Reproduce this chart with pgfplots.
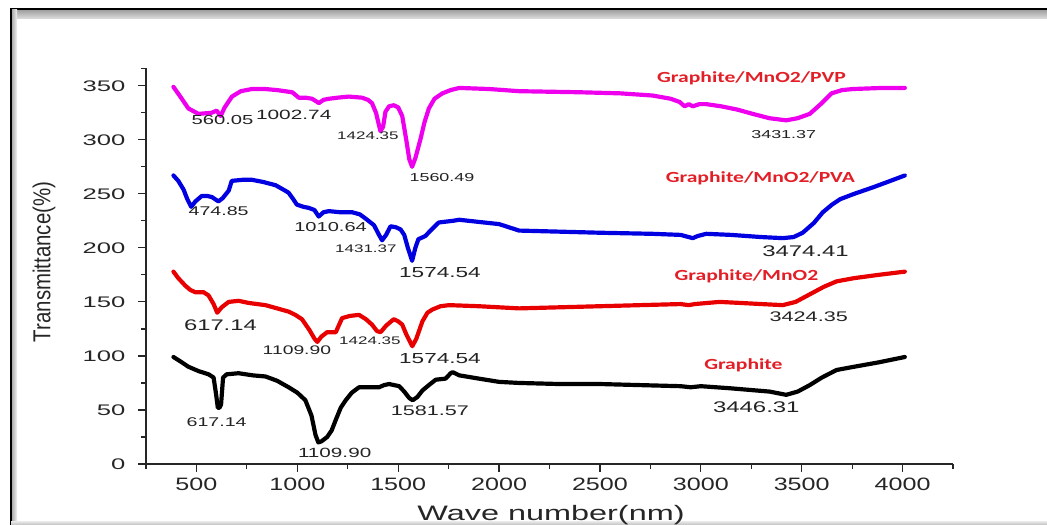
\documentclass[border=0pt]{standalone}
\usepackage{fontspec}
\setmainfont{Liberation Sans}
\newfontfamily\lblfont{Carlito}
\usepackage{pgfplots}
\pgfplotsset{compat=1.18}
\definecolor{pvp}{RGB}{238,0,238}
\definecolor{pva}{RGB}{0,0,225}
\definecolor{mno}{RGB}{232,0,0}
\definecolor{lblred}{RGB}{226,30,38}
\definecolor{anno}{RGB}{35,35,35}
\begin{document}
\begin{tikzpicture}[x=1bp,y=1bp]
\useasboundingbox (0,0) rectangle (1047,525);
% frame
\shade[top color=gray!75, bottom color=gray!25] (11,506) rectangle (1047,515);
\fill[black] (9.5,514.5) rectangle (1047,516.5);
\shade[left color=gray!70, right color=gray!10] (11.5,0) rectangle (17,515);
\fill[black] (9.5,0) rectangle (11.8,516.5);
\shade[top color=gray!20, bottom color=gray!50] (11,0) rectangle (1047,3.5);
\begin{axis}[
  at={(146bp,61bp)}, anchor=south west,
  scale only axis, width=807bp, height=395.5bp,
  xmin=250, xmax=4250, ymin=0, ymax=366,
  axis lines=left, axis line style={-, line width=1.4pt, black!85},
  xtick={500,1000,...,4000}, minor xtick={250,750,...,4250},
  ytick={0,50,...,350}, minor ytick={25,75,...,325,366},
  tick align=outside, major tick length=8bp, minor tick length=5bp,
  every tick/.style={black!85, line width=1.2pt},
  /pgf/number format/1000 sep={},
  /pgf/number format/assume math mode=true,
  x tick label style={font=\fontsize{18}{20}\selectfont, xscale=1.4, text=black!85, yshift=-2bp},
  y tick label style={font=\fontsize{15.4}{18}\selectfont, xscale=1.67, text=black!85, xshift=-4bp},
  clip=false,
  every axis plot/.append style={line width=4.2pt, line join=round, line cap=round},
]
% Graphite/MnO2/PVP
\addplot[pvp] coordinates {
(386,349)(420,340)(460,329)(510,324)(575,325)(600,327)(620,322)(640,330)(676,340)(720,345)(775,347)(840,347)(900,346)(975,344)(1007,339)(1040,339)(1073,338)(1107,334)(1130,337)(1157,338)(1200,339)(1255,340)(1320,339)(1350,337)(1370,334)(1390,325)(1412,308)(1425,312)(1437,326)(1455,331)(1478,332)(1500,330)(1520,322)(1540,300)(1555,282)(1569,275)(1585,283)(1611,301)(1630,316)(1652,329)(1680,338)(1719,343)(1760,346)(1803,348)(1950,347)(2099,345)(2400,344)(2600,343)(2760,341)(2850,338)(2895,335)(2920,331)(2940,333)(2960,331)(2993,333)(3027,333)(3100,331)(3180,328)(3257,324)(3340,320)(3423,318)(3480,320)(3540,324)(3600,334)(3648,343)(3700,346)(3754,347)(3900,348)(4011,348)
};
% Graphite/MnO2/PVA
\addplot[pva] coordinates {
(386,267)(410,262)(436,254)(455,245)(474,238)(495,243)(526,248)(555,248)(577,247)(609,243)(630,246)(660,253)(675,262)(730,263)(775,263)(830,261)(892,258)(930,254)(957,251)(980,245)(998,240)(1030,238)(1057,237)(1085,235)(1106,229)(1130,233)(1157,234)(1210,233)(1271,233)(1310,231)(1339,227)(1380,221)(1405,212)(1420,207)(1440,212)(1462,220)(1490,219)(1512,217)(1530,212)(1548,200)(1569,188)(1585,200)(1600,208)(1635,211)(1660,216)(1701,223.5)(1770,225)(1803,226)(1900,224)(2000,222)(2099,216)(2300,215)(2500,214)(2760,213)(2900,212)(2940,210)(2960,209)(2985,211)(3027,213)(3150,212)(3300,210)(3406,209)(3460,210)(3505,214)(3560,223)(3605,233)(3650,240)(3690,245)(3760,250)(3853,256)(3940,262)(4011,267)
};
% Graphite/MnO2
\addplot[mno] coordinates {
(386,178)(410,172)(445,165)(470,161)(494,159)(535,159)(560,156)(585,148)(603,140)(625,145)(660,150)(709,151)(760,149)(842,147)(900,144)(957,141)(990,138)(1023,134)(1060,124)(1085,116)(1099,113)(1120,118)(1148,122)(1170,122)(1191,122)(1205,128)(1222,135)(1260,137)(1306,138)(1340,134)(1370,129)(1395,123)(1413,122)(1440,128)(1478,134)(1500,132)(1520,129)(1540,120)(1570,109)(1590,116)(1620,132)(1645,140)(1670,143)(1710,146)(1752,147)(1900,146)(2099,144)(2300,145)(2500,146)(2700,147)(2900,148)(2940,147)(2970,148)(3093,150)(3200,149)(3300,148)(3406,147)(3470,150)(3540,157)(3610,164)(3673,169)(3760,172)(3880,175)(4011,178)
};
% Graphite
\addplot[black] coordinates {
(386,99)(420,95)(460,90)(510,86)(560,83)(585,80)(597,65)(606,52)(614,52)(622,55)(632,80)(650,83)(709,84)(780,82)(842,81)(900,77)(957,71)(1000,66)(1040,59)(1070,45)(1090,27)(1104,20)(1120,21)(1148,25)(1170,31)(1191,41)(1215,52)(1240,59)(1270,66)(1306,71)(1350,71)(1405,71)(1430,73)(1455,74)(1480,73)(1505,72)(1530,67)(1555,61)(1572,59)(1595,62)(1620,68)(1652,73)(1686,78)(1735,79)(1760,84)(1770,85)(1803,82)(1900,79)(2000,76)(2099,75)(2300,74)(2500,74)(2700,73)(2900,72)(2950,71)(3000,72)(3150,70)(3341,67)(3423,64)(3480,67)(3540,73)(3600,80)(3673,87)(3760,90)(3880,94)(4011,99)
};
% annotations
\begin{scope}[every node/.style={text=anno, xscale=1.55, inner sep=0pt}]
\node[font=\fontsize{13.1}{15}\selectfont] at (axis cs:629,318.5) {560.05};
\node[font=\fontsize{13.5}{15}\selectfont] at (axis cs:982,323.5) {1002.74};
\node[font=\fontsize{11}{13}\selectfont] at (axis cs:1350,304) {1424.35};
\node[font=\fontsize{11.6}{13}\selectfont] at (axis cs:1717,265) {1560.49};
\node[font=\fontsize{11.6}{13}\selectfont] at (axis cs:3411,304.5) {3431.37};
\node[font=\fontsize{12.7}{15}\selectfont] at (axis cs:610,234) {474.85};
\node[font=\fontsize{13}{15}\selectfont] at (axis cs:1165,219) {1010.64};
\node[font=\fontsize{11}{13}\selectfont] at (axis cs:1340,199) {1431.37};
\node[font=\fontsize{14.6}{16}\selectfont] at (axis cs:1707,177) {1574.54};
\node[font=\fontsize{15.5}{17}\selectfont] at (axis cs:3519,197) {3474.41};
\node[font=\fontsize{15.4}{17}\selectfont] at (axis cs:619,128) {617.14};
\node[font=\fontsize{12.5}{15}\selectfont] at (axis cs:998,105) {1109.90};
\node[font=\fontsize{11}{13}\selectfont] at (axis cs:1360,114) {1424.35};
\node[font=\fontsize{14.6}{16}\selectfont] at (axis cs:1707,98) {1574.54};
\node[font=\fontsize{14}{16}\selectfont] at (axis cs:3535,136.5) {3424.35};
\node[font=\fontsize{12.7}{15}\selectfont] at (axis cs:600,39) {617.14};
\node[font=\fontsize{13.4}{15}\selectfont] at (axis cs:1185,10) {1109.90};
\node[font=\fontsize{14}{16}\selectfont] at (axis cs:1657,49) {1581.57};
\node[font=\fontsize{15.5}{17}\selectfont] at (axis cs:3275,53) {3446.31};
\end{scope}
\begin{scope}[every node/.style={text=lblred, xscale=1.4, inner sep=0pt, font=\lblfont\bfseries\fontsize{15.5}{18}\selectfont}]
\node at (axis cs:3251,356.5) {Graphite/MnO2/PVP};
\node at (axis cs:3295,264.6) {Graphite/MnO2/PVA};
\node at (axis cs:3226,174) {Graphite/MnO2};
\node at (axis cs:3211,91) {Graphite};
\end{scope}
\end{axis}
\node[anchor=base, font=\fontsize{21}{24}\selectfont, xscale=1.55, text=black!85, inner sep=0pt] at (551,4) {Wave number(nm)};
\node[rotate=90, yscale=1.2, font=\fontsize{20.5}{23}\selectfont, text=black!85, inner sep=0pt] at (44,263) {Transmittance(\%)};
\end{tikzpicture}
\end{document}
